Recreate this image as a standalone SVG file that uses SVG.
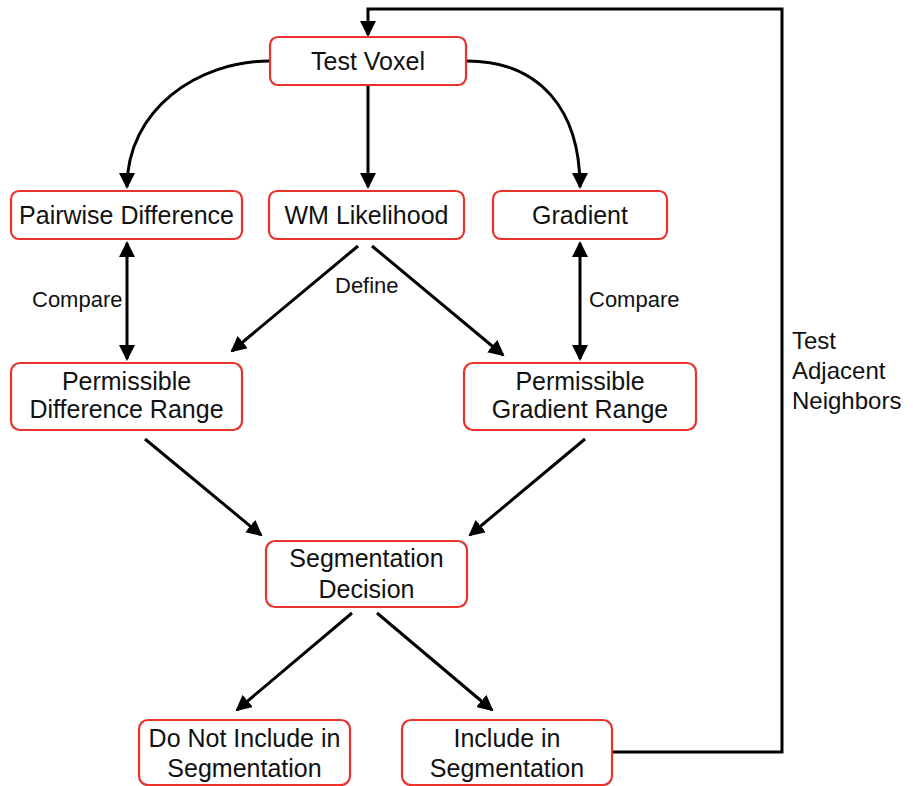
<svg xmlns="http://www.w3.org/2000/svg" width="913" height="786" viewBox="0 0 913 786">
<style>
.box{fill:#fff;stroke:#e8322b;stroke-width:2.2}
.t{font-family:"Liberation Sans",Arial,sans-serif;font-size:25px;fill:#111;text-anchor:middle}
.lbl{font-family:"Liberation Sans",Arial,sans-serif;font-size:22px;fill:#111}
.c{fill:none;stroke:#000;stroke-width:3}
</style>
<defs>
<marker id="ah" viewBox="0 0 16 16" refX="14" refY="8" markerWidth="16" markerHeight="16" markerUnits="userSpaceOnUse" orient="auto-start-reverse">
<path d="M0,0 L16,8 L0,16 z" fill="#000"/>
</marker>
</defs>
<rect width="913" height="786" fill="#fff"/>
<g id="connectors">
<path class="c" d="M467,61 C540,61 580,110 580,187" marker-end="url(#ah)"/>
<path class="c" d="M270,61 C197,61 127,110 127,187" marker-end="url(#ah)"/>
<path class="c" d="M368,85 L368,187" marker-end="url(#ah)"/>
<path class="c" d="M127,243 L127,359" marker-start="url(#ah)" marker-end="url(#ah)"/>
<path class="c" d="M580,243 L580,359" marker-start="url(#ah)" marker-end="url(#ah)"/>
<path class="c" d="M358,246 L232,351" marker-end="url(#ah)"/>
<path class="c" d="M372,246 L503,355" marker-end="url(#ah)"/>
<path class="c" d="M145,439 L261,535" marker-end="url(#ah)"/>
<path class="c" d="M585,439 L470,535" marker-end="url(#ah)"/>
<path class="c" d="M352,613 L237,710" marker-end="url(#ah)"/>
<path class="c" d="M377,613 L492,710" marker-end="url(#ah)"/>
<path class="c" d="M612,752 L782,752 L782,9 L368,9 L368,35" marker-end="url(#ah)"/>
<text class="lbl" x="32" y="307">Compare</text>
<text class="lbl" x="589" y="307">Compare</text>
<text class="lbl" x="335" y="293">Define</text>
<text class="t" x="792" y="349" style="text-anchor:start;font-size:24px">Test</text>
<text class="t" x="792" y="379" style="text-anchor:start;font-size:24px">Adjacent</text>
<text class="t" x="792" y="409" style="text-anchor:start;font-size:24px">Neighbors</text>
</g>
<g id="test-voxel">
<rect class="box" x="270" y="37" width="196" height="48" rx="8"/>
<text class="t" x="368" y="70">Test Voxel</text>
</g>
<g id="pairwise-difference">
<rect class="box" x="11" y="191" width="231" height="48" rx="8"/>
<text class="t" x="126.5" y="224">Pairwise Difference</text>
</g>
<g id="wm-likelihood">
<rect class="box" x="269" y="191" width="195" height="48" rx="8"/>
<text class="t" x="366.5" y="224">WM Likelihood</text>
</g>
<g id="gradient">
<rect class="box" x="493" y="191" width="174" height="48" rx="8"/>
<text class="t" x="580" y="224">Gradient</text>
</g>
<g id="permissible-difference-range">
<rect class="box" x="11" y="363" width="231" height="67" rx="9"/>
<text class="t" x="126.5" y="390">Permissible</text>
<text class="t" x="126.5" y="418">Difference Range</text>
</g>
<g id="permissible-gradient-range">
<rect class="box" x="464" y="363" width="232" height="67" rx="9"/>
<text class="t" x="580" y="390">Permissible</text>
<text class="t" x="580" y="418">Gradient Range</text>
</g>
<g id="segmentation-decision">
<rect class="box" x="266" y="541" width="201" height="66" rx="9"/>
<text class="t" x="366.5" y="567">Segmentation</text>
<text class="t" x="366.5" y="598">Decision</text>
</g>
<g id="do-not-include">
<rect class="box" x="139" y="720" width="211" height="65" rx="9"/>
<text class="t" x="244.5" y="747">Do Not Include in</text>
<text class="t" x="244.5" y="777">Segmentation</text>
</g>
<g id="include">
<rect class="box" x="402" y="720" width="210" height="65" rx="9"/>
<text class="t" x="507" y="747">Include in</text>
<text class="t" x="507" y="777">Segmentation</text>
</g>
</svg>
